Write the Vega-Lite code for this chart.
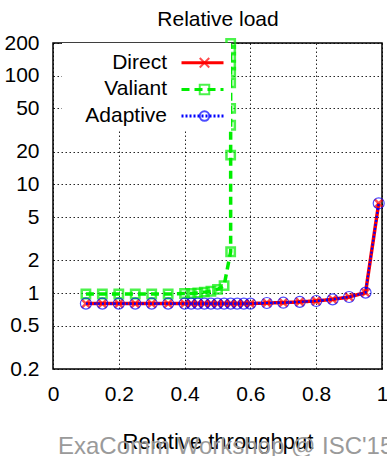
{
  "$schema": "https://vega.github.io/schema/vega-lite/v6.json",
  "width": 329,
  "height": 326,
  "autosize": {"type": "none"},
  "padding": {"left": 53, "top": 43, "right": 5, "bottom": 87},
  "title": {"text": "ExaComm Workshop @ ISC'15", "orient": "bottom", "anchor": "start", "frame": "group", "dx": 5, "offset": -17, "fontSize": 24, "fontWeight": "normal", "color": "#9a9a9a", "font": "Liberation Sans"},
  "config": {
    "view": {"stroke": "black", "strokeWidth": 1.5},
    "font": "Liberation Sans",
    "axis": {"labelFontSize": 21, "titleFontSize": 21, "titleFontWeight": "normal", "labelColor": "black", "titleColor": "black", "ticks": false, "domain": false, "grid": true, "gridColor": "black", "gridDash": [1.5, 2.5], "gridOpacity": 0.85, "gridWidth": 1, "labelFlush": false, "labelOverlap": false, "labelBound": false}
  },
  "data": {"values": [
    {"series": "Direct", "order": 0, "x": 0.1, "y": 0.8},
    {"series": "Direct", "order": 1, "x": 0.15, "y": 0.8},
    {"series": "Direct", "order": 2, "x": 0.2, "y": 0.8},
    {"series": "Direct", "order": 3, "x": 0.25, "y": 0.8},
    {"series": "Direct", "order": 4, "x": 0.3, "y": 0.8},
    {"series": "Direct", "order": 5, "x": 0.35, "y": 0.8},
    {"series": "Direct", "order": 6, "x": 0.4, "y": 0.8},
    {"series": "Direct", "order": 7, "x": 0.42, "y": 0.8},
    {"series": "Direct", "order": 8, "x": 0.44, "y": 0.8},
    {"series": "Direct", "order": 9, "x": 0.46, "y": 0.8},
    {"series": "Direct", "order": 10, "x": 0.48, "y": 0.8},
    {"series": "Direct", "order": 11, "x": 0.5, "y": 0.8},
    {"series": "Direct", "order": 12, "x": 0.52, "y": 0.8},
    {"series": "Direct", "order": 13, "x": 0.54, "y": 0.8},
    {"series": "Direct", "order": 14, "x": 0.56, "y": 0.8},
    {"series": "Direct", "order": 15, "x": 0.58, "y": 0.8},
    {"series": "Direct", "order": 16, "x": 0.6, "y": 0.8},
    {"series": "Direct", "order": 17, "x": 0.65, "y": 0.81},
    {"series": "Direct", "order": 18, "x": 0.7, "y": 0.815},
    {"series": "Direct", "order": 19, "x": 0.75, "y": 0.83},
    {"series": "Direct", "order": 20, "x": 0.8, "y": 0.845},
    {"series": "Direct", "order": 21, "x": 0.85, "y": 0.875},
    {"series": "Direct", "order": 22, "x": 0.9, "y": 0.92},
    {"series": "Direct", "order": 23, "x": 0.95, "y": 1.01},
    {"series": "Direct", "order": 24, "x": 0.99, "y": 6.7},
    {"series": "Valiant", "order": 0, "x": 0.1, "y": 0.98},
    {"series": "Valiant", "order": 1, "x": 0.15, "y": 0.98},
    {"series": "Valiant", "order": 2, "x": 0.2, "y": 0.98},
    {"series": "Valiant", "order": 3, "x": 0.25, "y": 0.98},
    {"series": "Valiant", "order": 4, "x": 0.3, "y": 0.98},
    {"series": "Valiant", "order": 5, "x": 0.35, "y": 0.98},
    {"series": "Valiant", "order": 6, "x": 0.4, "y": 0.99},
    {"series": "Valiant", "order": 7, "x": 0.42, "y": 0.99},
    {"series": "Valiant", "order": 8, "x": 0.44, "y": 1.0},
    {"series": "Valiant", "order": 9, "x": 0.46, "y": 1.02},
    {"series": "Valiant", "order": 10, "x": 0.48, "y": 1.04},
    {"series": "Valiant", "order": 11, "x": 0.5, "y": 1.08},
    {"series": "Valiant", "order": 12, "x": 0.52, "y": 1.17},
    {"series": "Valiant", "order": 13, "x": 0.54, "y": 2.4},
    {"series": "Valiant", "order": 14, "x": 0.54, "y": 18.6},
    {"series": "Valiant", "order": 15, "x": 0.54, "y": 35},
    {"series": "Valiant", "order": 16, "x": 0.54, "y": 50},
    {"series": "Valiant", "order": 17, "x": 0.54, "y": 86},
    {"series": "Valiant", "order": 18, "x": 0.54, "y": 108},
    {"series": "Valiant", "order": 19, "x": 0.54, "y": 125},
    {"series": "Valiant", "order": 20, "x": 0.54, "y": 148},
    {"series": "Valiant", "order": 21, "x": 0.54, "y": 172},
    {"series": "Valiant", "order": 22, "x": 0.54, "y": 198},
    {"series": "Adaptive", "order": 0, "x": 0.1, "y": 0.8},
    {"series": "Adaptive", "order": 1, "x": 0.15, "y": 0.8},
    {"series": "Adaptive", "order": 2, "x": 0.2, "y": 0.8},
    {"series": "Adaptive", "order": 3, "x": 0.25, "y": 0.8},
    {"series": "Adaptive", "order": 4, "x": 0.3, "y": 0.8},
    {"series": "Adaptive", "order": 5, "x": 0.35, "y": 0.8},
    {"series": "Adaptive", "order": 6, "x": 0.4, "y": 0.8},
    {"series": "Adaptive", "order": 7, "x": 0.42, "y": 0.8},
    {"series": "Adaptive", "order": 8, "x": 0.44, "y": 0.8},
    {"series": "Adaptive", "order": 9, "x": 0.46, "y": 0.8},
    {"series": "Adaptive", "order": 10, "x": 0.48, "y": 0.8},
    {"series": "Adaptive", "order": 11, "x": 0.5, "y": 0.8},
    {"series": "Adaptive", "order": 12, "x": 0.52, "y": 0.8},
    {"series": "Adaptive", "order": 13, "x": 0.54, "y": 0.8},
    {"series": "Adaptive", "order": 14, "x": 0.56, "y": 0.8},
    {"series": "Adaptive", "order": 15, "x": 0.58, "y": 0.8},
    {"series": "Adaptive", "order": 16, "x": 0.6, "y": 0.8},
    {"series": "Adaptive", "order": 17, "x": 0.65, "y": 0.81},
    {"series": "Adaptive", "order": 18, "x": 0.7, "y": 0.815},
    {"series": "Adaptive", "order": 19, "x": 0.75, "y": 0.83},
    {"series": "Adaptive", "order": 20, "x": 0.8, "y": 0.845},
    {"series": "Adaptive", "order": 21, "x": 0.85, "y": 0.875},
    {"series": "Adaptive", "order": 22, "x": 0.9, "y": 0.92},
    {"series": "Adaptive", "order": 23, "x": 0.95, "y": 1.01},
    {"series": "Adaptive", "order": 24, "x": 0.99, "y": 6.7}
  ]},
  "encoding": {
    "x": {"field": "x", "type": "quantitative", "scale": {"domain": [0, 1], "nice": false, "zero": false},
      "axis": {"title": "Relative throughput", "titleFontSize": 22, "values": [0, 0.2, 0.4, 0.6, 0.8, 1], "format": "~g", "labelPadding": 14, "titlePadding": 27}},
    "y": {"field": "y", "type": "quantitative", "scale": {"type": "log", "domain": [0.2, 200], "nice": false},
      "axis": {"title": "Relative load", "titleAngle": 0, "titleX": 164.5, "titleY": -18, "titleAlign": "center", "titleBaseline": "alphabetic", "values": [0.2, 0.5, 1, 2, 5, 10, 20, 50, 100, 200], "format": "~g", "labelPadding": 14}},
    "order": {"field": "order", "type": "quantitative"}
  },
  "layer": [
    {
      "transform": [{"filter": "datum.series == 'Direct'"}],
      "mark": {"type": "line", "strokeWidth": 3.5},
      "encoding": {
        "color": {"field": "series", "type": "nominal", "scale": {"domain": ["Direct", "Valiant", "Adaptive"], "range": ["#ff0000", "#00ee00", "#0000ff"]},
          "legend": {"orient": "none", "legendX": 9, "legendY": 0, "padding": 2, "fillColor": "white", "title": " ", "titleFontSize": 5, "titlePadding": 0.2, "symbolType": "stroke", "symbolSize": 1764, "symbolStrokeWidth": 3, "symbolOffset": 116, "labelExpr": "''", "labelFontSize": 21, "clipHeight": 25, "rowPadding": 1.7, "zindex": 1}},
        "strokeDash": {"field": "series", "type": "nominal", "scale": {"domain": ["Direct", "Valiant", "Adaptive"], "range": [[1, 0], [8, 5], [2, 2]]}},
        "opacity": {"field": "series", "type": "ordinal", "scale": {"domain": ["Adaptive", "Direct", "Valiant"], "range": [1, 1, 1]},
          "legend": {"orient": "none", "legendX": 9, "legendY": 0, "padding": 2, "title": " ", "titleFontSize": 5, "titlePadding": 0.2, "values": ["Direct", "Valiant", "Adaptive"], "symbolType": "stroke", "symbolSize": 2116, "symbolStrokeWidth": 0, "symbolStrokeColor": "transparent", "symbolFillColor": "transparent", "symbolOffset": 116, "labelAlign": "right", "labelOffset": -59, "labelFontSize": 21, "labelColor": "black", "labelLimit": 300, "clipHeight": 25, "rowPadding": 1.7, "zindex": 2}}
      }
    },
    {
      "transform": [{"filter": "datum.series == 'Direct'"}],
      "mark": {"type": "point", "filled": false, "strokeWidth": 2.5, "size": 64},
      "encoding": {
        "stroke": {"field": "series", "type": "nominal", "scale": {"range": ["#0000ff", "#ff0000", "#00ee00"]},
          "legend": {"orient": "none", "legendX": 9, "legendY": 0, "padding": 2, "title": " ", "titleFontSize": 5, "titlePadding": 0.2, "values": ["Direct", "Valiant", "Adaptive"], "symbolSize": 90, "symbolStrokeWidth": 2, "symbolOffset": 130, "labelExpr": "''", "labelFontSize": 21, "clipHeight": 25, "rowPadding": 1.7, "zindex": 3}},
        "shape": {"field": "series", "type": "nominal", "scale": {"range": ["circle", "M-1,-1L1,1M-1,1L1,-1", "square"]},
          "legend": {"orient": "none", "legendX": 9, "legendY": 0, "padding": 2, "title": " ", "titleFontSize": 5, "titlePadding": 0.2, "values": ["Direct", "Valiant", "Adaptive"], "symbolSize": 90, "symbolStrokeWidth": 2, "symbolOffset": 130, "labelExpr": "''", "labelFontSize": 21, "clipHeight": 25, "rowPadding": 1.7, "zindex": 3}}
      }
    },
    {
      "transform": [{"filter": "datum.series == 'Valiant'"}],
      "mark": {"type": "line", "strokeWidth": 3.5},
      "encoding": {
        "color": {"field": "series", "type": "nominal"},
        "strokeDash": {"field": "series", "type": "nominal"},
        "opacity": {"field": "series", "type": "ordinal"}
      }
    },
    {
      "transform": [{"filter": "datum.series == 'Valiant'"}],
      "mark": {"type": "point", "filled": false, "strokeWidth": 2.5, "size": 70},
      "encoding": {
        "stroke": {"field": "series", "type": "nominal"},
        "shape": {"field": "series", "type": "nominal"}
      }
    },
    {
      "transform": [{"filter": "datum.series == 'Adaptive'"}],
      "mark": {"type": "line", "strokeWidth": 2.2},
      "encoding": {
        "color": {"field": "series", "type": "nominal"},
        "strokeDash": {"field": "series", "type": "nominal"},
        "opacity": {"field": "series", "type": "ordinal"}
      }
    },
    {
      "transform": [{"filter": "datum.series == 'Adaptive'"}],
      "mark": {"type": "point", "filled": false, "strokeWidth": 1.2, "size": 121},
      "encoding": {
        "stroke": {"field": "series", "type": "nominal"},
        "shape": {"field": "series", "type": "nominal"}
      }
    }
  ]
}
